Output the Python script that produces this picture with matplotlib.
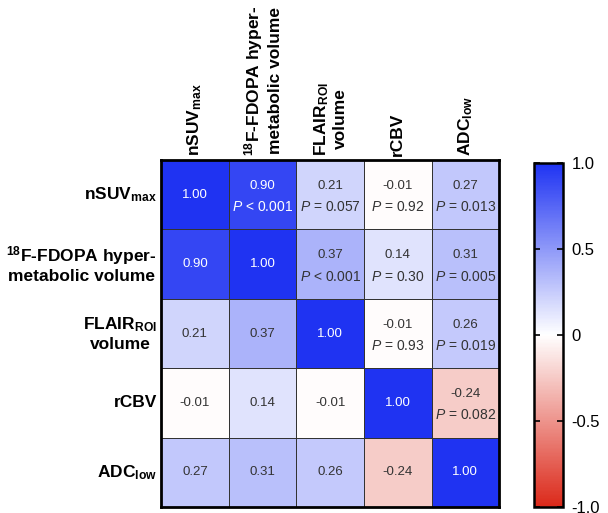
import numpy as np
import matplotlib
matplotlib.use("Agg")
import matplotlib.pyplot as plt
from matplotlib.colors import LinearSegmentedColormap

plt.rcParams['font.family'] = ['Liberation Sans', 'DejaVu Sans']
plt.rcParams['mathtext.fontset'] = 'custom'
plt.rcParams['mathtext.rm'] = 'Liberation Sans:bold'
plt.rcParams['mathtext.it'] = 'Liberation Sans:italic'
plt.rcParams['mathtext.bf'] = 'Liberation Sans:bold'

# variable names
labels = [
    r'nSUV$_{\mathrm{max}}$',
    '$^{\\mathrm{18}}$F-FDOPA hyper-\nmetabolic volume',
    'FLAIR$_{\\mathrm{ROI}}$\nvolume',
    'rCBV',
    'ADC$_{\\mathrm{low}}$',
]

# correlation coefficients
r_vals = np.array([
    [1.00, 0.90, 0.21, -0.01, 0.27],
    [0.90, 1.00, 0.37, 0.14, 0.31],
    [0.21, 0.37, 1.00, -0.01, 0.26],
    [-0.01, 0.14, -0.01, 1.00, -0.24],
    [0.27, 0.31, 0.26, -0.24, 1.00],
])

# p-values shown in upper triangle (row, col) -> text
p_text = {
    (0, 1): '< 0.001', (0, 2): '= 0.057', (0, 3): '= 0.92', (0, 4): '= 0.013',
    (1, 2): '< 0.001', (1, 3): '= 0.30', (1, 4): '= 0.005',
    (2, 3): '= 0.93', (2, 4): '= 0.019',
    (3, 4): '= 0.082',
}

cbar_ticks = [-1.0, -0.5, 0, 0.5, 1.0]
cbar_ticklabels = ['-1.0', '-0.5', '0', '0.5', '1.0']

cmap = LinearSegmentedColormap.from_list(
    'rwb', [(0.86, 0.16, 0.10), (1, 1, 1), (0.12, 0.20, 0.95)])

fig = plt.figure(figsize=(6.08, 5.13), dpi=100)
ax = fig.add_axes([0.265, 0.0117, 0.556, 0.6763])
n = len(labels)
mesh = ax.pcolormesh(np.arange(n + 1), np.arange(n + 1), r_vals, cmap=cmap,
                     vmin=-1, vmax=1, edgecolors='#333333', linewidth=0.6)
ax.set_xlim(0, n)
ax.set_ylim(n, 0)
for s in ax.spines.values():
    s.set_linewidth(2.0)

for i in range(n):
    for j in range(n):
        v = r_vals[i, j]
        col = 'white' if v >= 0.85 else '#333333'
        if (i, j) in p_text:
            ax.text(j + 0.5, i + 0.37, f'{v:.2f}', ha='center', va='center',
                    fontsize=9.5, color=col)
            ax.text(j + 0.5, i + 0.68, r'$\mathit{P}$ ' + p_text[(i, j)],
                    ha='center', va='center', fontsize=10, color=col)
        else:
            ax.text(j + 0.5, i + 0.5, f'{v:.2f}', ha='center', va='center',
                    fontsize=9.5, color=col)

ax.set_xticks(np.arange(n) + 0.5)
ax.set_yticks(np.arange(n) + 0.5)
ax.xaxis.tick_top()
ax.set_xticklabels(labels, rotation=90, fontsize=12.5, fontweight='bold',
                   ha='center', va='bottom', multialignment='center')
ax.set_yticklabels(labels, fontsize=12.5, fontweight='bold', ha='right',
                   va='center', multialignment='center')
ax.tick_params(length=0, pad=3)

cax = fig.add_axes([0.878, 0.0117, 0.048, 0.6705])
cb = fig.colorbar(mesh, cax=cax, ticks=cbar_ticks)
cb.ax.set_yticklabels(cbar_ticklabels, fontsize=12)
cb.outline.set_linewidth(1.8)
cax.tick_params(direction='in', length=4, width=1.2, left=True, right=True, pad=6)

fig.savefig('out.png', dpi=100)
